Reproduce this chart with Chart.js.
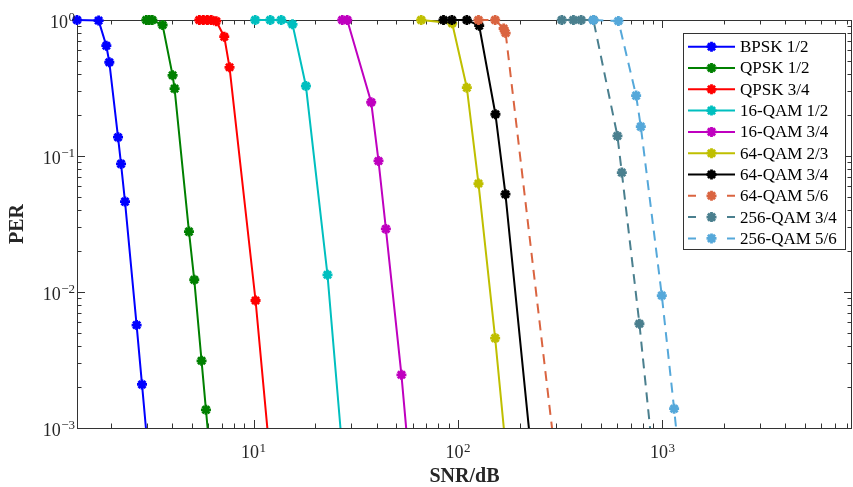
<!DOCTYPE html>
<html>
<head>
<meta charset="utf-8">
<script src="https://cdn.jsdelivr.net/npm/chart.js@4.4.1/dist/chart.umd.min.js"></script>
<style>
  html, body { margin: 0; padding: 0; background: #ffffff; }
  #wrap { width: 853px; height: 487px; }
</style>
</head>
<body>
<div id="wrap"><canvas id="per" width="853" height="487"></canvas></div>
<script>
// Packet error rate versus SNR for each modulation / coding scheme
const seriesLabels = ['BPSK 1/2', 'QPSK 1/2', 'QPSK 3/4', '16-QAM 1/2', '16-QAM 3/4',
                      '64-QAM 2/3', '64-QAM 3/4', '64-QAM 5/6', '256-QAM 3/4', '256-QAM 5/6'];

const bpskHalfSnr   = [1.369, 1.746, 1.905, 1.970, 2.173, 2.248, 2.351, 2.679, 2.847, 3.02];
const bpskHalfPer   = [1, 0.99, 0.647, 0.489, 0.1375, 0.0875, 0.0462, 0.00571, 0.00209, 0.00078];

const qpskHalfSnr   = [2.988, 3.09, 3.197, 3.589, 4.018, 4.109, 4.832, 5.129, 5.568, 5.851, 6.10];
const qpskHalfPer   = [1, 1, 1, 0.919, 0.392, 0.313, 0.0278, 0.0123, 0.00312, 0.00136, 0.00068];

const qpsk34Snr     = [5.43, 5.68, 5.94, 6.21, 6.57, 7.19, 7.63, 10.23, 11.9];
const qpsk34Per     = [1, 1, 1, 1, 0.98, 0.754, 0.449, 0.00866, 0.00074];

const qam16HalfSnr  = [10.19, 12.07, 13.66, 15.51, 18.04, 23.0, 26.9];
const qam16HalfPer  = [1, 1, 1, 0.93, 0.327, 0.01337, 0.00083];

const qam16_34Snr   = [27.16, 28.72, 37.63, 40.86, 44.4, 52.9, 56.9];
const qam16_34Per   = [1, 1, 0.2484, 0.092, 0.0291, 0.00246, 0.00072];

const qam64_23Snr   = [66.07, 93.7, 110.5, 126.0, 152.0, 171.8];
const qam64_23Per   = [1, 0.946, 0.318, 0.0627, 0.00458, 0.00068];

const qam64_34Snr   = [84.96, 93.4, 110.5, 127.0, 152.5, 170.7, 229];
const qam64_34Per   = [1, 1, 1, 0.908, 0.2028, 0.0524, 0.00064];

const qam64_56Snr   = [126.0, 152.0, 167.3, 171.1, 295];
const qam64_56Per   = [1, 1, 0.866, 0.802, 0.00075];

const qam256_34Snr  = [322.2, 367.1, 400.4, 459.7, 602.6, 633.2, 771.9, 891];
const qam256_34Per  = [1, 1, 1, 1, 0.1405, 0.0755, 0.00584, 0.00071];

const qam256_56Snr  = [459.7, 609.4, 743.8, 784.2, 993.4, 1141, 1175];
const qam256_56Per  = [1, 0.983, 0.278, 0.1644, 0.00942, 0.001386, 0.0009];

// Decade tick labels: base "10" with a raised exponent
const xTickValues    = [10, 100, 1000];
const xTickExponents = ['1', '2', '3'];
const yTickValues    = [1, 0.1, 0.01, 0.001];
const yTickExponents = ['0', '\u22121', '\u22122', '\u22123'];

const seriesX = [bpskHalfSnr, qpskHalfSnr, qpsk34Snr, qam16HalfSnr, qam16_34Snr,
                 qam64_23Snr, qam64_34Snr, qam64_56Snr, qam256_34Snr, qam256_56Snr];
const seriesY = [bpskHalfPer, qpskHalfPer, qpsk34Per, qam16HalfPer, qam16_34Per,
                 qam64_23Per, qam64_34Per, qam64_56Per, qam256_34Per, qam256_56Per];
const seriesColors = ['#0000FF', '#008000', '#FF0000', '#00BFBF', '#BF00BF',
                      '#BFBF00', '#000000', '#DA6440', '#4A7F8E', '#55A8DA'];
const seriesDashed = [false, false, false, false, false, false, false, true, true, true];

const DASH = [10, 7];
const SERIF = '"Liberation Serif", "Times New Roman", serif';
const AXIS_COLOR = '#333333';
const TEXT_COLOR = '#262626';
const MARK_R = 5, MARK_W = 2.8;

const datasets = seriesLabels.map((label, i) => ({
  label,
  data: seriesX[i].map((x, j) => ({ x, y: seriesY[i][j] })),
  borderColor: seriesColors[i],
  backgroundColor: seriesColors[i],
  borderWidth: 2,
  borderDash: seriesDashed[i] ? DASH : [],
  pointStyle: 'star',
  pointRadius: MARK_R,
  pointBorderWidth: MARK_W,
  pointHoverRadius: MARK_R,
  tension: 0,
  fill: false,
  clip: { left: 8, top: 8, right: 0, bottom: 0 },
  order: -i   // later series drawn on top
}));

// Writes "10" followed by a raised exponent, starting at x0
function drawPower(ctx, exponent, x0, baseline) {
  ctx.font = '18px ' + SERIF;
  ctx.fillText('10', x0, baseline);
  const w = ctx.measureText('10').width;
  ctx.font = '13px ' + SERIF;
  ctx.fillText(exponent, x0 + w + 0.5, baseline - 6.6);
}
function powerWidth(ctx, exponent) {
  ctx.font = '18px ' + SERIF;
  const w = ctx.measureText('10').width;
  ctx.font = '13px ' + SERIF;
  return w + 0.5 + ctx.measureText(exponent).width;
}

// Inward tick marks and the surrounding box
const axesBox = {
  id: 'axesBox',
  beforeDatasetsDraw(chart) {
    const { ctx, chartArea: a, scales: { x, y } } = chart;
    ctx.save();
    ctx.strokeStyle = AXIS_COLOR;
    ctx.lineWidth = 1;
    ctx.beginPath();
    for (let e = 0; e <= 4; e++) {
      for (let k = 1; k <= 9; k++) {
        const v = k * Math.pow(10, e);
        if (v < x.min || v > x.max) continue;
        const px = Math.round(x.getPixelForValue(v)) + 0.5;
        const len = k === 1 ? 8 : 4.5;
        ctx.moveTo(px, a.bottom); ctx.lineTo(px, a.bottom - len);
        ctx.moveTo(px, a.top); ctx.lineTo(px, a.top + len);
      }
    }
    for (let e = -3; e <= 0; e++) {
      for (let k = 1; k <= 9; k++) {
        const v = k * Math.pow(10, e);
        if (v < y.min * 0.999 || v > y.max * 1.001) continue;
        const py = Math.round(y.getPixelForValue(v)) + 0.5;
        const len = k === 1 ? 8 : 4.5;
        ctx.moveTo(a.left, py); ctx.lineTo(a.left + len, py);
        ctx.moveTo(a.right, py); ctx.lineTo(a.right - len, py);
      }
    }
    ctx.stroke();
    ctx.strokeRect(Math.round(a.left) + 0.5, Math.round(a.top) + 0.5,
                   Math.round(a.right - a.left) - 1, Math.round(a.bottom - a.top));
    ctx.restore();
  },
  // decade labels go on top so edge markers never hide them
  afterDatasetsDraw(chart) {
    const { ctx, chartArea: a, scales: { x, y } } = chart;
    ctx.save();
    ctx.fillStyle = TEXT_COLOR;
    ctx.textAlign = 'left';
    ctx.textBaseline = 'alphabetic';
    xTickValues.forEach((v, i) => {
      const px = x.getPixelForValue(v);
      const w = powerWidth(ctx, xTickExponents[i]);
      drawPower(ctx, xTickExponents[i], px - w / 2, a.bottom + 30.3);
    });
    yTickValues.forEach((v, i) => {
      const py = y.getPixelForValue(v);
      const w = powerWidth(ctx, yTickExponents[i]);
      drawPower(ctx, yTickExponents[i], a.left - 2 - w, py + 7.5);
    });
    ctx.restore();
  }
};

// Boxed legend in the upper right corner of the plot area
const boxLegend = {
  id: 'boxLegend',
  afterDraw(chart) {
    const { ctx } = chart;
    const left = 683.5, top = 33.5, width = 162, rowH = 21.3, firstY = 46.7;
    const height = rowH * seriesLabels.length + 3;
    ctx.save();
    ctx.fillStyle = '#ffffff';
    ctx.fillRect(left, top, width, height);
    ctx.strokeStyle = AXIS_COLOR;
    ctx.lineWidth = 1;
    ctx.strokeRect(left, top, width, height);
    chart.data.datasets.forEach((ds, i) => {
      const yy = firstY + rowH * i;
      ctx.strokeStyle = ds.borderColor;
      ctx.lineWidth = 2;
      ctx.beginPath();
      if (ds.borderDash.length) {
        ctx.moveTo(688, yy); ctx.lineTo(696, yy);
        ctx.moveTo(727, yy); ctx.lineTo(735, yy);
      } else {
        ctx.moveTo(688, yy); ctx.lineTo(735, yy);
      }
      ctx.stroke();
      ctx.lineWidth = MARK_W;
      Chart.helpers.drawPoint(ctx, { pointStyle: 'star', radius: MARK_R, borderWidth: MARK_W }, 711.5, yy);
      ctx.fillStyle = '#000000';
      ctx.font = '17px ' + SERIF;
      ctx.textAlign = 'left';
      ctx.textBaseline = 'middle';
      ctx.fillText(ds.label, 740, yy + 1);
    });
    ctx.restore();
  }
};

new Chart(document.getElementById('per'), {
  type: 'line',
  data: { datasets },
  options: {
    responsive: false,
    animation: false,
    events: [],
    layout: { autoPadding: false, padding: { top: 20, right: 1, left: 0, bottom: 0 } },
    plugins: { legend: { display: false }, tooltip: { enabled: false } },
    scales: {
      x: {
        type: 'logarithmic',
        min: 1.369,
        max: 8463,
        grid: { display: false, drawTicks: false },
        border: { display: false },
        afterFit(scale) {
          scale.height = 59;
          scale.paddingLeft = 0;
          scale.paddingRight = 0;
        },
        ticks: { display: false },
        title: {
          display: true,
          text: 'SNR/dB',
          color: TEXT_COLOR,
          font: { family: SERIF, size: 20, weight: 'bold', lineHeight: 1.0 },
          padding: { top: 0, bottom: 0 }
        }
      },
      y: {
        type: 'logarithmic',
        min: 0.001,
        max: 1,
        grid: { display: false, drawTicks: false },
        border: { display: false },
        afterFit(scale) {
          scale.width = 77;
          scale.paddingTop = 0;
          scale.paddingBottom = 0;
        },
        ticks: { display: false },
        title: {
          display: true,
          text: 'PER',
          color: TEXT_COLOR,
          font: { family: SERIF, size: 20, weight: 'bold', lineHeight: 1.0 },
          padding: { top: 8, bottom: 0 }
        }
      }
    }
  },
  plugins: [axesBox, boxLegend]
});
</script>
</body>
</html>
